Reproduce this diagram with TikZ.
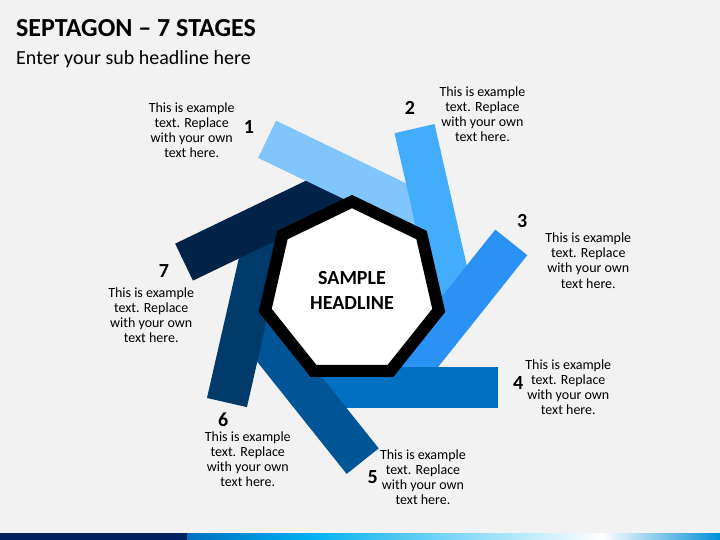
\documentclass[tikz,border=0pt]{standalone}
\usepackage{fontspec}
\setmainfont{Carlito}
\definecolor{bgc}{HTML}{F2F2F2}
\definecolor{cA}{HTML}{80C6FC}
\definecolor{cB}{HTML}{41ADFC}
\definecolor{cC}{HTML}{2A92F4}
\definecolor{cD}{HTML}{0070C0}
\definecolor{cE}{HTML}{005597}
\definecolor{cF}{HTML}{003A6A}
\definecolor{cG}{HTML}{002347}
\definecolor{navy}{HTML}{002060}
\definecolor{sblue}{HTML}{0070C0}
\definecolor{scyan}{HTML}{00B0F0}
\definecolor{send}{HTML}{0090D8}
\tikzset{
  bodytext/.style={align=center, font=\fontsize{14}{15}\selectfont, text=black, inner sep=0pt},
  numlabel/.style={font=\fontsize{20}{24}\bfseries, text=black, inner sep=0pt},
  heptline/.style={draw=black, line width=12pt, line join=miter, fill=white},
}
\newcommand{\stagebar}[5]{% rotation, color, t-start, t-end, offset
  \begin{scope}[shift={(352,249.4)}, rotate=#1]
    \fill[#2] (#3,{-(#5)-20.5}) rectangle (#4,{-(#5)+20.5});
  \end{scope}}
\begin{document}
\begin{tikzpicture}[x=1pt,y=1pt]
\fill[bgc] (0,0) rectangle (720,540);
\useasboundingbox (0,0) rectangle (720,540);
% bottom strip
\fill[navy] (0,0) rectangle (187,6.7);
\shade[left color=sblue, right color=scyan] (187,0) rectangle (310,6.7);
\shade[left color=scyan, right color=white] (309.5,0) rectangle (602,6.7);
\shade[left color=white, right color=send] (601.5,0) rectangle (720,6.7);
% titles
\node[anchor=base west, inner sep=0pt, font=\fontsize{26}{31}\bfseries] (title) at (16,503.3) {SEPTAGON – 7 STAGES};
\node[anchor=base west, inner sep=0pt, font=\fontsize{20}{24}\selectfont] (subtitle) at (16,475.7) {Enter your sub headline here};
% bars
\stagebar{154.29}{cA}{-45}{142}{99.5}
\stagebar{102.86}{cB}{-45}{144}{97}
\stagebar{51.43}{cC}{-45}{137}{94.5}
\stagebar{0}{cD}{-45}{146}{97}
\stagebar{308.57}{cE}{-45}{140}{98}
\stagebar{257.14}{cF}{-45}{137}{97}
\stagebar{205.71}{cG}{-45}{139}{98.5}
\stagebar{154.29}{cA}{0}{142}{99.5}
% heptagon
\begin{scope}[shift={(352,249.4)}]
  \draw[heptline] (90:89) -- (141.43:89) -- (192.86:89) -- (244.29:89) -- (295.71:89) -- (347.14:89) -- (38.57:89) -- cycle;
\end{scope}
\node[align=center, inner sep=0pt, font=\fontsize{20}{24.4}\bfseries] (head) at (352,249.6) {SAMPLE\\HEADLINE};
% labels
\node[numlabel] (n1) at (249,413.3) {1};
\node[numlabel] (n2) at (410,431.7) {2};
\node[numlabel] (n3) at (522.3,319.3) {3};
\node[numlabel] (n4) at (518.3,156.7) {4};
\node[numlabel] (n5) at (372.7,63.3) {5};
\node[numlabel] (n6) at (223.3,120.7) {6};
\node[numlabel] (n7) at (164,269) {7};
% texts
\node[bodytext] (t1) at (191.7,409.5) {This is example\\text. Replace\\with your own\\text here.};
\node[bodytext] (t2) at (482.5,425.5) {This is example\\text. Replace\\with your own\\text here.};
\node[bodytext] (t3) at (588.3,279.3) {This is example\\text. Replace\\with your own\\text here.};
\node[bodytext] (t4) at (568.3,152.5) {This is example\\text. Replace\\with your own\\text here.};
\node[bodytext] (t5) at (423,62.5) {This is example\\text. Replace\\with your own\\text here.};
\node[bodytext] (t6) at (247.8,81) {This is example\\text. Replace\\with your own\\text here.};
\node[bodytext] (t7) at (151.2,224.5) {This is example\\text. Replace\\with your own\\text here.};
\end{tikzpicture}
\end{document}
